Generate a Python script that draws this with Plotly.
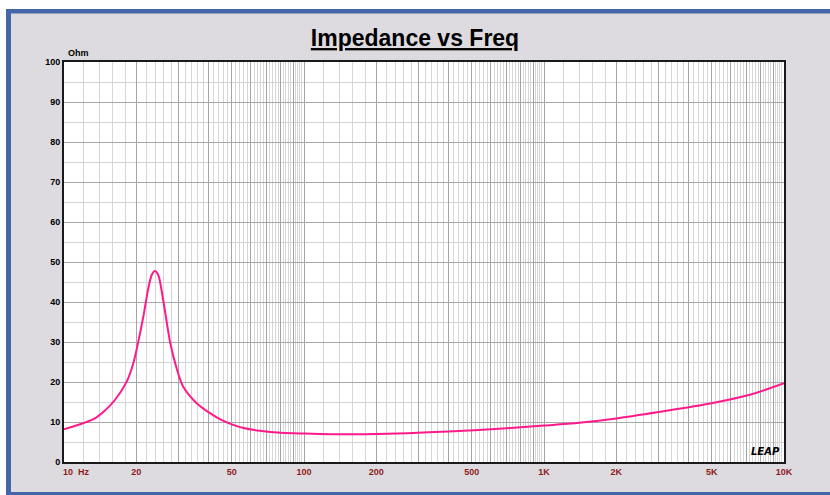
import plotly.graph_objects as go

# ---- data ----
freq_hz = [10, 11.5, 13.25, 14.7, 16.3, 18.25, 19.45, 20.4, 21.4, 22.45, 23.2, 23.9,
           24.7, 25.9, 27.7, 29.5, 31.4, 35.7, 40.6, 44.6, 50, 56, 65.6, 80, 100, 130, 180, 270,
           400, 650, 1000, 1400, 2000, 3000, 5000, 7200, 10000]
impedance_ohm = [8.2, 9.3, 10.7, 12.7, 15.5, 20.1, 24.7, 30.1, 36.3, 43.4, 46.75, 47.75,
                 46.75, 40.5, 29.8, 23.3, 18.8, 14.7, 12.2, 10.7, 9.4, 8.5, 7.8, 7.3, 7.1, 6.95, 6.95, 7.2,
                 7.65, 8.3, 9.1, 9.8, 10.9, 12.5, 14.7, 16.8, 19.7]

x_label_vals = [20, 50, 100, 200, 500, 1000, 2000, 5000, 10000]
x_label_text = ["20", "50", "100", "200", "500", "1K", "2K", "5K", "10K"]
y_tick_vals = [0, 10, 20, 30, 40, 50, 60, 70, 80, 90, 100]

# ---- grid helpers ----
decades = [10, 100, 1000]
major_vals = []
for d in decades:
    for n in range(1, 10):
        major_vals.append(n * d)
major_vals.append(10000)
major_text = [x_label_text[x_label_vals.index(v)] if v in x_label_vals else "" for v in major_vals]
minor_vals = []
for d in decades:
    for n in range(1, 10):
        for k in (0.2, 0.4, 0.6, 0.8):
            minor_vals.append(round((n + k) * d, 6))

fig = go.Figure()
fig.add_trace(go.Scatter(
    x=freq_hz, y=impedance_ohm, mode="lines",
    line=dict(color="#ff1a8c", width=2, shape="spline", smoothing=0.8),
    hoverinfo="x+y", showlegend=False,
))

BG = "#dddbdf"
BLUE = "#4266a8"
W, H = 830, 495
PL, PR, PT, PB = 64, 784, 62, 462
L, R, T, B = PL, W - PR, PT, H - PB
PW, PH = PR - PL, PB - PT

def px(x):
    return (x - PL) / PW

def py(y):
    return (PB - y) / PH

shapes = [
    dict(type="rect", xref="paper", yref="paper", x0=px(0), x1=px(W), y0=py(0), y1=py(9),
         fillcolor="white", line=dict(width=0), layer="below"),
    dict(type="rect", xref="paper", yref="paper", x0=px(0), x1=px(6), y0=py(0), y1=py(H),
         fillcolor="white", line=dict(width=0), layer="below"),
    dict(type="rect", xref="paper", yref="paper", x0=px(6), x1=px(W), y0=py(9), y1=py(13.5),
         fillcolor=BLUE, line=dict(width=0), layer="below"),
    dict(type="rect", xref="paper", yref="paper", x0=px(6), x1=px(11), y0=py(9), y1=py(H),
         fillcolor=BLUE, line=dict(width=0), layer="below"),
    dict(type="rect", xref="paper", yref="paper", x0=px(6), x1=px(W), y0=py(492), y1=py(H),
         fillcolor=BLUE, line=dict(width=0), layer="below"),
]

FONT = "Liberation Sans, Arial, sans-serif"

fig.update_layout(
    width=W, height=H,
    margin=dict(l=L, r=R, t=T, b=B, pad=0),
    paper_bgcolor=BG, plot_bgcolor="white",
    shapes=shapes,
    title=dict(text="<b><u>Impedance vs Freq</u></b>", x=px(424), xanchor="center",
               y=1 - 38 / H, yanchor="middle", yref="container",
               font=dict(family=FONT, size=23, color="black")),
    xaxis=dict(type="log", range=[1, 4], tickmode="array", tickvals=major_vals, ticktext=major_text,
               showgrid=True, gridcolor="#a4a4a4", gridwidth=1,
               minor=dict(tickmode="array", tickvals=minor_vals, showgrid=True,
                          gridcolor="#d6d6d6", gridwidth=1, ticks=""),
               showline=True, mirror=True, linecolor="#1a1a1a", linewidth=2,
               ticks="", zeroline=False,
               tickfont=dict(family=FONT, size=9, color="#8e1b1b", weight="bold")),
    yaxis=dict(range=[0, 100], tickmode="array", tickvals=y_tick_vals,
               showgrid=True, gridcolor="#a8a8a8", gridwidth=1,
               minor=dict(dtick=5, showgrid=True, gridcolor="#d4d4d4", gridwidth=1, ticks=""),
               showline=True, mirror=True, linecolor="#1a1a1a", linewidth=2,
               ticks="", zeroline=False,
               tickfont=dict(family=FONT, size=9, color="black", weight="bold")),
    annotations=[
        dict(text="<b>10  Hz</b>", xref="paper", yref="paper", x=px(61), y=py(471.5),
             xanchor="left", yanchor="middle", showarrow=False,
             font=dict(family=FONT, size=9, color="#8e1b1b")),
        dict(text="<b>Ohm</b>", xref="paper", yref="paper", x=px(66), y=py(53),
             xanchor="left", yanchor="middle", showarrow=False,
             font=dict(family=FONT, size=9, color="black")),
        dict(text="<b><i>LEAP</i></b>", xref="paper", yref="paper", x=px(782), y=py(459),
             xanchor="right", yanchor="bottom", showarrow=False,
             font=dict(family="DejaVu Sans, sans-serif", size=10, color="black")),
    ],
)

fig.write_html("out.html", config={"displayModeBar": False},
               post_script="document.body.style.margin='0';")
